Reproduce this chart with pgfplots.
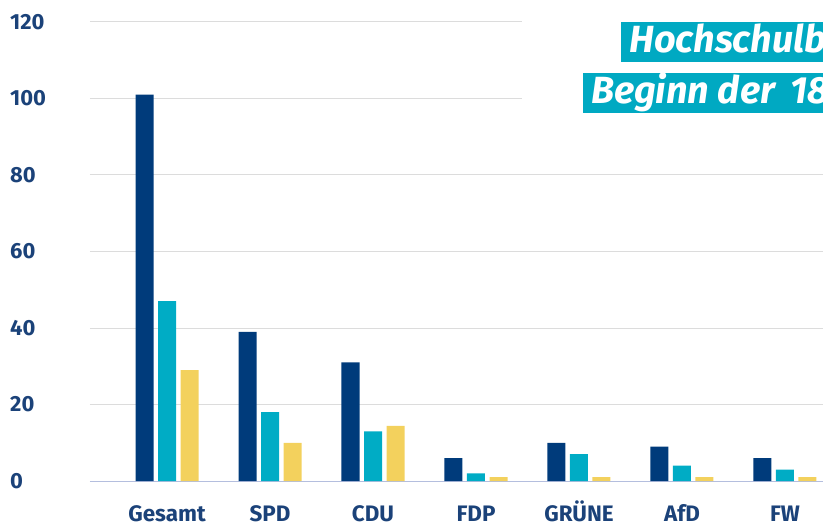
\documentclass[border=0pt]{standalone}
\usepackage{fontspec}
\setmainfont{Fira Sans}
\usepackage{pgfplots}
\pgfplotsset{compat=1.18}
\definecolor{cdark}{HTML}{003B7B}
\definecolor{cteal}{HTML}{00ACC5}
\definecolor{cyel}{HTML}{F3D15D}
\definecolor{ctext}{HTML}{1B4279}
\definecolor{cgrid}{HTML}{DCDCDC}
\definecolor{caxis}{HTML}{B4BEDE}
\definecolor{cbox}{HTML}{00A9C2}
\begin{document}
\begin{tikzpicture}
\begin{axis}[
  at={(0bp,0bp)}, anchor=south west,
  scale only axis, width=733bp, height=459bp,
  xmin=-0.7476, xmax=6.369, ymin=0, ymax=120,
  ybar=4.5bp, bar width=18bp,
  axis x line*=bottom, axis y line*=left,
  y axis line style={draw=none},
  x axis line style={color=caxis, line width=1pt, -},
  major tick length=0,
  ytick={0,20,...,120},
  xtick={0,...,6},
  xticklabels={Gesamt,SPD,CDU,FDP,GRÜNE,AfD,FW},
  ymajorgrids, grid style={color=cgrid, line width=1pt},
  /pgf/number format/assume math mode=true,
  yticklabel style={anchor=west, inner sep=0pt, xshift=-80bp,
    font=\bfseries\fontsize{22}{26}\selectfont, text=ctext},
  xticklabel style={anchor=base, inner sep=0pt, yshift=-40bp,
    font=\bfseries\fontsize{22.5}{26}\selectfont, text=ctext},
]
\addplot[fill=cdark, draw=none] coordinates {(0,101) (1,39) (2,31) (3,6) (4,10) (5,9) (6,6)};
\addplot[fill=cteal, draw=none] coordinates {(0,47) (1,18) (2,13) (3,2) (4,7) (5,4) (6,3)};
\addplot[fill=cyel, draw=none] coordinates {(0,29) (1,10) (2,14.4) (3,1) (4,1) (5,1) (6,1)};
\end{axis}
\fill[white] (432bp,341bp) rectangle (740bp,490bp);
\fill[cbox] (531bp,419bp) rectangle (740bp,459bp);
\fill[cbox] (493bp,368bp) rectangle (740bp,408bp);
\node[anchor=base west, inner sep=0pt, text=white, font=\bfseries\itshape\fontsize{38}{42}\selectfont] at (539bp,428bp) {Hochschulbildung};
\node[anchor=base west, inner sep=0pt, text=white, font=\bfseries\itshape\fontsize{38}{42}\selectfont] at (501bp,377bp) {Beginn der\hspace{0.4em}18.};
\pgfresetboundingbox
\path[use as bounding box] (-90bp,-44bp) rectangle (733bp,481bp);
\end{tikzpicture}
\end{document}
